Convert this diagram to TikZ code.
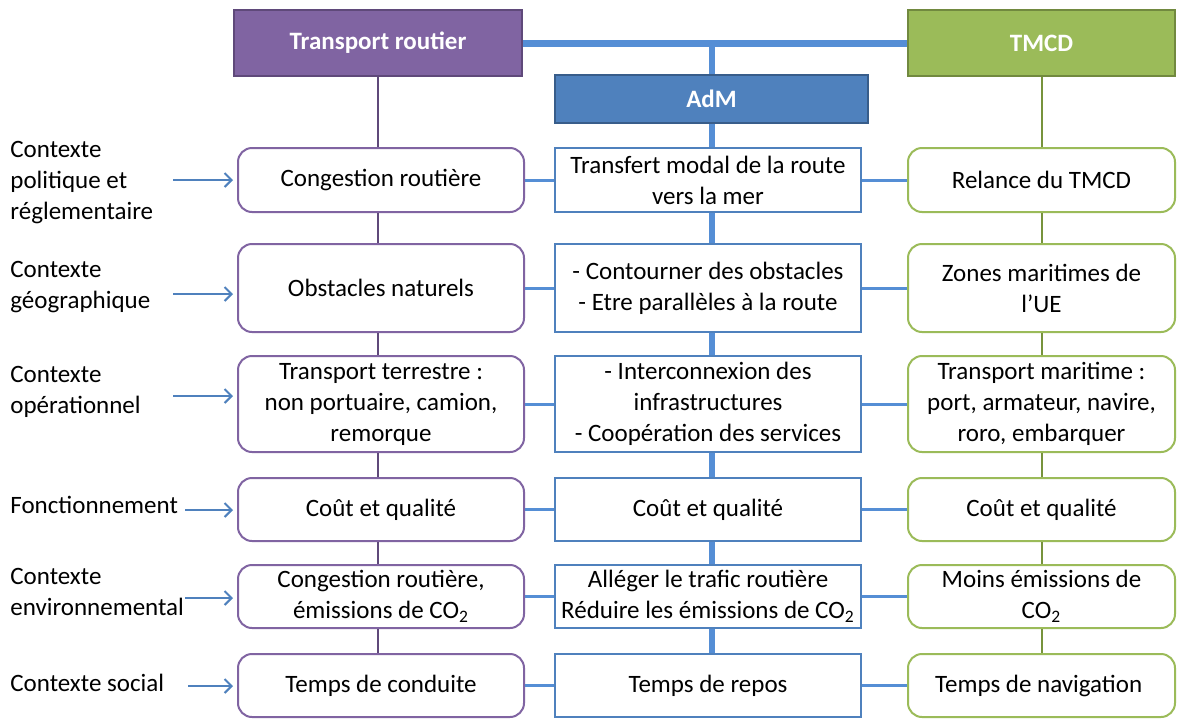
\documentclass[tikz,border=0pt]{standalone}
\usepackage{fontspec}
\setmainfont{Carlito}
\usetikzlibrary{positioning, arrows.meta, calc}
\definecolor{routier}{HTML}{8064A2}
\definecolor{routierdark}{HTML}{5F497A}
\definecolor{adm}{HTML}{4F81BD}
\definecolor{admdark}{HTML}{385D8A}
\definecolor{admline}{HTML}{558ED5}
\definecolor{tmcd}{HTML}{9BBB59}
\definecolor{tmcddark}{HTML}{71893F}
\definecolor{tmcdline}{HTML}{77933C}

\tikzset{
  head/.style={draw, line width=1pt, inner sep=0pt, font=\fontsize{12.5}{15.5}\selectfont\bfseries, text=white},
  cell/.style={line width=1pt, fill=white, inner sep=0pt, align=center},
  rbox/.style={cell, draw=routier, rounded corners=7pt, minimum width=143pt},
  abox/.style={cell, draw=adm, minimum width=153pt},
  tbox/.style={cell, draw=tmcd, rounded corners=7pt, minimum width=133.5pt},
  ctx/.style={anchor=west, align=left, inner sep=0pt},
  arr/.style={draw=adm, line width=1pt, -{Straight Barb[length=3.5pt, width=7pt]}}
}

\begin{document}
\begin{tikzpicture}[x=0.5pt, y=-0.5pt, font=\fontsize{12.5}{15.5}\selectfont]
  \useasboundingbox[fill=white] (0,0) rectangle (1177,718);

  % en-tetes
  \node[head, fill=routier, draw=routierdark, minimum width=144pt, minimum height=33pt] (rhead) at (378,43) {Transport routier};
  \node[head, fill=adm, draw=admdark, minimum width=156.5pt, minimum height=24pt] (ahead) at (711.5,99) {AdM};
  \node[head, fill=tmcd, draw=tmcddark, minimum width=133.5pt, minimum height=33pt] (thead) at (1041.5,43) {TMCD};

  \foreach \n/\yc/\h/\rtxt/\atxt/\ttxt in {
      1/180/64/{Congestion routière}/{Transfert modal de la route\\vers la mer}/{Relance du TMCD},
      2/288/88/{Obstacles naturels}/{- Contourner des obstacles\\- Etre parallèles à la route}/{Zones maritimes de\\l’UE},
      3/404/96/{Transport terrestre :\\non portuaire, camion,\\remorque}/{- Interconnexion des\\infrastructures\\- Coopération des services}/{Transport maritime :\\port, armateur, navire,\\roro, embarquer},
      4/509.5/63/{Coût et qualité}/{Coût et qualité}/{Coût et qualité},
      5/596.5/63/{Congestion routière,\\émissions de CO\textsubscript{2}}/{Alléger le trafic routière\\Réduire les émissions de CO\textsubscript{2}}/{Moins émissions de\\CO\textsubscript{2}},
      6/685.5/63/{Temps de conduite}/{Temps de repos}/{Temps de navigation}
  } {
    \node[rbox, minimum height=\h*0.5pt] (r\n) at (381,\yc) {\rtxt};
    \node[abox, minimum height=\h*0.5pt] (a\n) at (708,\yc) {\atxt};
    \node[tbox, minimum height=\h*0.5pt] (t\n) at (1041.5,\yc) {\ttxt};
  }

  % liaisons
  \draw[admline, line width=3.5pt] (rhead.east) -- (thead.west);
  \draw[admline, line width=3pt] (ahead.north) -- (ahead.north |- rhead.east);
  \draw[routierdark, line width=1pt] (rhead.south) -- (rhead.south |- r1.north);
  \draw[admline, line width=3pt] (ahead.south) -- (ahead.south |- a1.north);
  \draw[tmcdline, line width=1pt] (thead.south) -- (thead.south |- t1.north);
  \foreach \n [evaluate=\n as \m using int(\n+1)] in {1,...,5} {
    \draw[routierdark, line width=1pt] (rhead.south |- r\n.south) -- (rhead.south |- r\m.north);
    \draw[admline, line width=3pt] (ahead.south |- a\n.south) -- (ahead.south |- a\m.north);
    \draw[tmcdline, line width=1pt] (thead.south |- t\n.south) -- (thead.south |- t\m.north);
  }
  \foreach \n in {1,...,6} {
    \draw[admline, line width=1.5pt] (r\n.east) -- (a\n.west);
    \draw[admline, line width=1.5pt] (a\n.east) -- (t\n.west);
  }

  % contextes
  \foreach \n/\yc/\ctxt/\sx/\ay in {
      1/183/{Contexte\\politique et\\réglementaire}/173/180,
      2/287/{Contexte\\géographique}/173/294,
      3/392/{Contexte\\opérationnel}/173/396,
      4/505/{Fonctionnement}/185/510,
      5/592/{Contexte\\environnemental}/185/598,
      6/683/{Contexte social}/188/686
  } {
    \node[ctx] (c\n) at (10,\yc) {\ctxt};
    \coordinate (s\n) at (\sx,\ay);
    \draw[arr, shorten >=2pt] (s\n) -- (s\n -| r\n.west);
  }
\end{tikzpicture}
\end{document}
